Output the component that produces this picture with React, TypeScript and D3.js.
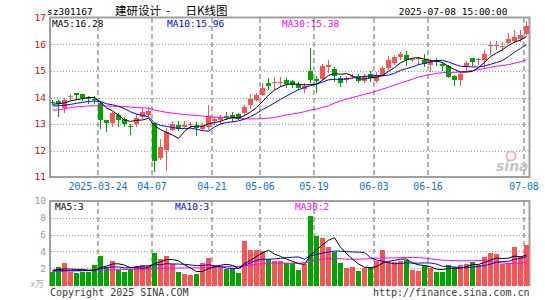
import * as d3 from 'd3'
import { useEffect, useRef } from 'react'

const width = 545
const height = 300
const plot = { left: 49.5, right: 529.5 }
const price = { top: 18, bottom: 177 }
const vol = { top: 201, bottom: 285 }

const mono = '"DejaVu Sans Mono", monospace'
const upColor = '#ff5252'
const downColor = '#00a600'

// trading days (MM-DD), 2025-03-12 .. 2025-07-08
const days = [
  '03-12', '03-13', '03-14', '03-17', '03-18', '03-19', '03-20', '03-21', '03-24', '03-25',
  '03-26', '03-27', '03-28', '03-31', '04-01', '04-02', '04-03', '04-07', '04-08', '04-09',
  '04-10', '04-11', '04-14', '04-15', '04-16', '04-17', '04-18', '04-21', '04-22', '04-23',
  '04-24', '04-25', '04-28', '04-29', '04-30', '05-06', '05-07', '05-08', '05-09', '05-12',
  '05-13', '05-14', '05-15', '05-16', '05-19', '05-20', '05-21', '05-22', '05-23', '05-26',
  '05-27', '05-28', '05-29', '05-30', '06-03', '06-04', '06-05', '06-06', '06-09', '06-10',
  '06-11', '06-12', '06-13', '06-16', '06-17', '06-18', '06-19', '06-20', '06-23', '06-24',
  '06-25', '06-26', '06-27', '06-30', '07-01', '07-02', '07-03', '07-04', '07-07', '07-08',
]

const open = [
  13.82, 13.85, 13.6, 14.02, 14.16, 14.13, 13.99, 13.95, 13.78, 13.15,
  13.03, 13.34, 13.17, 12.93, 13.0, 13.28, 13.35, 13.03, 11.71, 12.02,
  12.78, 12.97, 12.88, 12.97, 12.93, 12.8, 12.9, 13.1, 13.15, 13.32,
  13.35, 13.38, 13.41, 13.72, 13.92, 14.1, 14.54, 14.55, 14.56, 14.65,
  14.62, 14.5, 14.33, 15.0, 14.7, 14.7, 15.14, 15.08, 14.72, 14.66,
  14.76, 14.8, 14.63, 14.9, 14.62, 14.86, 15.11, 15.3, 15.52, 15.62,
  15.43, 15.45, 15.43, 15.24, 15.42, 15.26, 15.17, 14.8, 14.67, 15.17,
  15.48, 15.4, 15.42, 15.96, 15.95, 15.93, 16.06, 16.12, 16.22, 16.4,
]
const high = [
  13.9, 13.91, 13.97, 14.12, 14.17, 14.14, 14.07, 14.05, 13.88, 13.15,
  13.47, 13.4, 13.27, 13.0, 13.37, 13.62, 13.65, 13.05, 12.43, 12.86,
  13.13, 13.12, 13.1, 13.07, 13.06, 13.03, 13.73, 13.25, 13.35, 13.45,
  13.47, 13.4, 13.72, 14.14, 14.16, 14.54, 14.73, 14.76, 14.77, 14.73,
  14.67, 14.6, 14.55, 15.87, 14.8, 15.28, 15.43, 15.15, 14.8, 14.8,
  14.9, 14.9, 14.9, 15.0, 14.98, 15.18, 15.55, 15.62, 15.7, 15.74,
  15.5, 15.53, 15.64, 15.45, 15.48, 15.35, 15.24, 14.86, 14.98, 15.36,
  15.5, 15.5, 15.8, 16.13, 16.14, 16.11, 16.43, 16.55, 16.55, 16.87,
]
const low = [
  13.72, 13.28, 13.43, 13.9, 13.9, 13.88, 13.76, 13.75, 12.83, 12.71,
  12.88, 12.9, 12.9, 12.58, 12.9, 13.18, 13.25, 11.17, 11.63, 11.24,
  12.72, 12.72, 12.84, 12.84, 12.54, 12.75, 12.78, 12.95, 12.97, 13.15,
  13.09, 13.15, 13.34, 13.56, 13.85, 14.05, 14.29, 14.29, 14.39, 14.35,
  14.35, 14.3, 14.16, 14.54, 14.16, 14.65, 14.92, 14.6, 14.38, 14.55,
  14.68, 14.55, 14.55, 14.6, 14.55, 14.77, 15.05, 15.24, 15.43, 15.18,
  15.35, 15.24, 15.14, 14.98, 15.2, 15.0, 14.73, 14.45, 14.45, 14.98,
  15.17, 15.23, 15.1, 15.6, 15.8, 15.74, 16.0, 16.05, 16.11, 16.34,
]
const close = [
  13.78, 13.76, 13.91, 14.05, 14.08, 14.0, 13.97, 13.9, 13.16, 13.02,
  13.41, 13.16, 13.0, 12.9, 13.23, 13.47, 13.48, 11.62, 12.14, 12.68,
  13.0, 12.82, 12.97, 13.0, 12.86, 12.92, 13.3, 13.18, 13.25, 13.28,
  13.22, 13.2, 13.63, 13.94, 14.1, 14.35, 14.42, 14.58, 14.59, 14.52,
  14.46, 14.35, 14.45, 14.67, 14.62, 15.18, 15.24, 14.8, 14.55, 14.72,
  14.8, 14.63, 14.8, 14.75, 14.85, 15.11, 15.4, 15.53, 15.64, 15.4,
  15.45, 15.49, 15.25, 15.36, 15.33, 15.17, 14.77, 14.65, 14.9, 15.3,
  15.33, 15.44, 15.65, 15.99, 15.99, 15.96, 16.22, 16.3, 16.36, 16.68,
]
// volume, x万 (10k lots)
const volume = [
  1.5, 2.18, 2.65, 1.58, 1.37, 1.53, 1.6, 2.4, 3.48, 2.18,
  2.84, 1.73, 1.6, 1.9, 2.28, 2.4, 2.26, 3.83, 3.1, 3.48,
  2.48, 1.58, 1.33, 1.22, 1.36, 2.6, 3.22, 2.4, 2.18, 1.9,
  2.0, 1.45, 5.22, 4.15, 4.18, 4.05, 3.1, 2.9, 2.8, 2.62,
  2.59, 1.8, 2.5, 8.2, 5.8, 5.62, 4.54, 3.97, 2.6, 2.06,
  2.18, 1.68, 2.08, 2.2, 2.82, 4.17, 2.79, 2.71, 2.87, 2.95,
  1.8, 1.68, 2.31, 2.08, 1.56, 1.56, 2.4, 2.13, 2.4, 2.5,
  2.75, 2.4, 3.37, 3.83, 3.72, 2.45, 2.65, 4.54, 3.4, 4.76,
]

// moving-average values before a full window is available
const ma5Head = [13.75, 13.76, 13.8, 13.87]
const ma10Head = [13.68, 13.69, 13.71, 13.74, 13.78, 13.82, 13.85, 13.87, 13.85]
const ma30Head = [
  13.53, 13.53, 13.57, 13.62, 13.65, 13.66, 13.68, 13.69, 13.69, 13.68,
  13.67, 13.67, 13.66, 13.64, 13.62, 13.61, 13.6, 13.53, 13.48, 13.44,
  13.41, 13.38, 13.36, 13.34, 13.32, 13.3, 13.28, 13.26, 13.25,
]
const vma5Head = [1.75, 1.85, 1.9, 1.9]
const vma10Head = [1.7, 1.7, 1.7, 1.72, 1.72, 1.73, 1.75, 1.8, 1.95]
const vma30Head = [
  1.62, 1.63, 1.65, 1.66, 1.67, 1.68, 1.7, 1.72, 1.75, 1.78,
  1.8, 1.82, 1.84, 1.85, 1.87, 1.88, 1.9, 1.95, 1.98, 2.0,
  2.02, 2.03, 2.03, 2.03, 2.04, 2.05, 2.07, 2.1, 2.15,
]

const tickDays = ['03-24', '04-07', '04-21', '05-06', '05-19', '06-03', '06-16', '07-08']
const tickLabels = ['2025-03-24', '04-07', '04-21', '05-06', '05-19', '06-03', '06-16', '07-08']
const priceTicks = [11, 12, 13, 14, 15, 16, 17]
const volTicks = [2, 4, 6, 8, 10]
const maLegend = ['MA5:16.28', 'MA10:15.96', 'MA30:15.38']
const volLegend = ['MA5:3', 'MA10:3', 'MA30:2']
const maColors = ['#000000', '#0000ff', '#ff00ff']

function movingAvg(values: number[], n: number, head: number[]) {
  return values.map((_, i) => (i < n - 1 ? head[i] : d3.mean(values.slice(i - n + 1, i + 1)) as number))
}

export default function App() {
  const ref = useRef<SVGSVGElement>(null)

  useEffect(() => {
    const svg = d3.select(ref.current)
    svg.selectAll('*').remove()

    const x = d3
      .scaleBand()
      .domain(days)
      .range([plot.left, plot.right])
      .paddingInner(1 / 6)
      .paddingOuter(1 / 12)
    const bw = x.bandwidth()
    const cx = (d: string) => (x(d) as number) + bw / 2
    const y = d3.scaleLinear().domain([11, 17]).range([price.bottom, price.top])
    const yv = d3.scaleLinear().domain([0, 10]).range([vol.bottom, vol.top])

    const grid = svg.append('g')
    // horizontal dotted grid
    grid
      .selectAll('line.hp')
      .data([12, 13, 14, 15, 16])
      .enter()
      .append('line')
      .attr('x1', 51)
      .attr('x2', 529)
      .attr('y1', (d) => Math.round(y(d)) + 0.5)
      .attr('y2', (d) => Math.round(y(d)) + 0.5)
      .attr('stroke', '#9a9a9a')
      .attr('stroke-dasharray', '1,2')
    grid
      .selectAll('line.hv')
      .data([2, 4, 6, 8])
      .enter()
      .append('line')
      .attr('x1', 51)
      .attr('x2', 529)
      .attr('y1', (d) => Math.round(yv(d)) + 0.5)
      .attr('y2', (d) => Math.round(yv(d)) + 0.5)
      .attr('stroke', '#9a9a9a')
      .attr('stroke-dasharray', '1,2')
    // vertical dashed grid, both panels
    for (const [t, b] of [
      [price.top, price.bottom],
      [vol.top, vol.bottom],
    ]) {
      grid
        .selectAll(null)
        .data(tickDays)
        .enter()
        .append('line')
        .attr('x1', (d) => x(d) as number)
        .attr('x2', (d) => x(d) as number)
        .attr('y1', t)
        .attr('y2', b)
        .attr('stroke', '#b4b4b4')
        .attr('stroke-width', 2)
        .attr('stroke-dasharray', '5,3')
    }

    // frames
    const frame = svg.append('g').attr('stroke', '#a0a0a0').attr('stroke-width', 2).attr('fill', 'none')
    frame.append('path').attr('d', `M50,${price.top - 0.5}H529.5V${price.bottom}H50Z`)
    frame.append('path').attr('d', `M50,${vol.bottom + 1}V${vol.top}H529.5V${vol.bottom + 1}`)

    // sina watermark
    const logo = svg.append('g')
    logo.append('circle').attr('cx', 511).attr('cy', 156).attr('r', 4.5).attr('fill', 'none').attr('stroke', '#f5b5b5').attr('stroke-width', 2)
    logo
      .append('text')
      .attr('x', 496)
      .attr('y', 171)
      .attr('font-family', '"DejaVu Sans", sans-serif')
      .attr('font-style', 'italic')
      .attr('font-weight', 'bold')
      .attr('font-size', 14)
      .attr('fill', '#c4c4c4')
      .text('sina')

    // volume bars
    svg
      .append('g')
      .selectAll('rect')
      .data(days)
      .enter()
      .append('rect')
      .attr('x', (d) => x(d) as number)
      .attr('width', bw)
      .attr('y', (d, i) => Math.round(yv(volume[i])))
      .attr('height', (d, i) => vol.bottom + 1 - Math.round(yv(volume[i])))
      .attr('fill', (d, i) => (close[i] >= open[i] ? upColor : downColor))

    // candles
    const candles = svg.append('g').selectAll('g').data(days).enter().append('g')
    candles
      .append('line')
      .attr('x1', (d) => cx(d))
      .attr('x2', (d) => cx(d))
      .attr('y1', (d, i) => Math.round(y(high[i])))
      .attr('y2', (d, i) => Math.round(y(low[i])))
      .attr('stroke', (d, i) => (close[i] >= open[i] ? upColor : downColor))
    candles
      .append('rect')
      .attr('x', (d) => x(d) as number)
      .attr('width', bw)
      .attr('y', (d, i) => Math.round(y(Math.max(open[i], close[i]))))
      .attr('height', (d, i) =>
        Math.max(1, Math.round(y(Math.min(open[i], close[i]))) - Math.round(y(Math.max(open[i], close[i])))),
      )
      .attr('fill', (d, i) => (close[i] >= open[i] ? upColor : downColor))

    // moving averages
    const priceLine = d3
      .line<number>()
      .x((_, i) => cx(days[i]))
      .y((v) => y(v))
    const volLine = d3
      .line<number>()
      .x((_, i) => cx(days[i]))
      .y((v) => yv(v))
    const mas = [movingAvg(close, 5, ma5Head), movingAvg(close, 10, ma10Head), movingAvg(close, 30, ma30Head)]
    const vmas = [movingAvg(volume, 5, vma5Head), movingAvg(volume, 10, vma10Head), movingAvg(volume, 30, vma30Head)]
    ;[2, 1, 0].forEach((k) => {
      svg
        .append('path')
        .attr('d', priceLine(mas[k]))
        .attr('fill', 'none')
        .attr('stroke', maColors[k])
        .attr('stroke-width', 1)
      svg
        .append('path')
        .attr('d', volLine(vmas[k]))
        .attr('fill', 'none')
        .attr('stroke', maColors[k])
        .attr('stroke-width', 1)
    })

    // axes labels
    const text = svg.append('g').attr('font-family', mono).attr('font-size', 9.5)
    text
      .selectAll(null)
      .data(priceTicks)
      .enter()
      .append('text')
      .attr('x', 46)
      .attr('y', (d) => y(d))
      .attr('dy', '0.35em')
      .attr('text-anchor', 'end')
      .attr('fill', '#f00000')
      .text((d) => d)
    text
      .selectAll(null)
      .data(volTicks)
      .enter()
      .append('text')
      .attr('x', 46)
      .attr('y', (d) => yv(d))
      .attr('dy', '0.35em')
      .attr('text-anchor', 'end')
      .attr('fill', '#9a9a9a')
      .text((d) => d)
    text
      .append('text')
      .attr('x', 44)
      .attr('y', 284)
      .attr('dy', '0.35em')
      .attr('text-anchor', 'end')
      .attr('fill', '#aaaaaa')
      .attr('font-family', '"Noto Sans CJK SC", sans-serif')
      .attr('font-size', 9)
      .text('x万')
    text
      .selectAll(null)
      .data(tickDays)
      .enter()
      .append('text')
      .attr('x', (d) => x(d) as number)
      .attr('y', 190)
      .attr('text-anchor', 'middle')
      .attr('font-size', 9.8)
      .attr('fill', '#0a78c8')
      .text((d, i) => tickLabels[i])

    // legends
    const legendX = [52, 167, 282]
    const volLegendX = [55, 175, 295]
    maLegend.forEach((s, k) => {
      text.append('text').attr('x', legendX[k]).attr('y', 26.5).attr('fill', maColors[k]).text(s)
      text.append('text').attr('x', volLegendX[k]).attr('y', 209.5).attr('fill', maColors[k]).text(volLegend[k])
    })

    // header
    text.append('text').attr('x', 47).attr('y', 14.5).attr('fill', '#000').text('sz301167')
    const cjk = '"Noto Sans CJK SC", sans-serif'
    text.append('text').attr('x', 115).attr('y', 14.5).attr('font-family', cjk).attr('font-size', 11.5).attr('fill', '#000').text('建研设计')
    text.append('text').attr('x', 166).attr('y', 14.5).attr('font-family', cjk).attr('font-size', 11.5).attr('fill', '#000').text('-')
    text.append('text').attr('x', 185.5).attr('y', 14.5).attr('font-family', cjk).attr('font-size', 11.5).attr('fill', '#000').text('日K线图')
    text.append('text').attr('x', 507.5).attr('y', 14.5).attr('text-anchor', 'end').attr('fill', '#000').text('2025-07-08 15:00:00')

    // footer
    text.append('text').attr('x', 50).attr('y', 295.5).attr('font-size', 10).attr('fill', '#3a3a3a').text('Copyright 2025 SINA.COM')
    text
      .append('text')
      .attr('x', 529.5)
      .attr('y', 295.5)
      .attr('font-size', 10)
      .attr('text-anchor', 'end')
      .attr('fill', '#3a3a3a')
      .text('http://finance.sina.com.cn')
  }, [])

  return (
    <svg
      ref={ref}
      width={width}
      height={height}
      style={{ position: 'absolute', left: 0, top: 0, background: '#fff' }}
    />
  )
}
